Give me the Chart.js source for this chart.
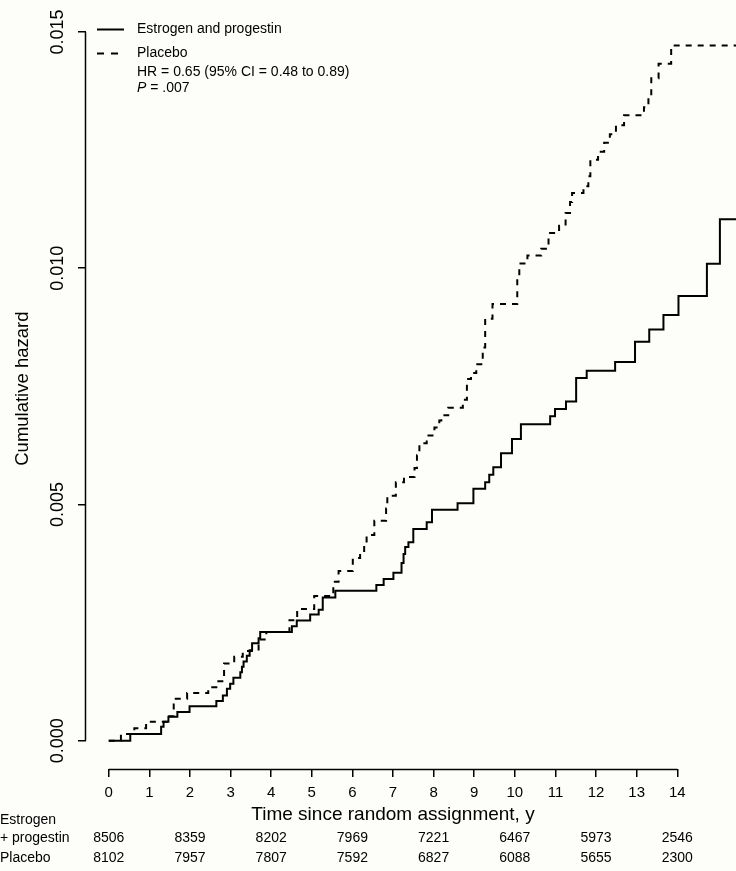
<!DOCTYPE html>
<html>
<head>
<meta charset="utf-8">
<title>Cumulative hazard</title>
<script src="https://cdn.jsdelivr.net/npm/chart.js@4.4.1/dist/chart.umd.min.js"></script>
<style>
  html, body { margin: 0; padding: 0; background: #fdfdf9; }
  canvas { display: block; }
</style>
</head>
<body>
<canvas id="hazardChart" width="736" height="871"></canvas>
<script>
// step start times (years) and cumulative hazard level from that time on
const epTimes = [0, 0.53, 1.29, 1.35, 1.47, 1.69, 1.99, 2.65, 2.81, 2.91, 2.99, 3.07, 3.24, 3.28, 3.32, 3.40,
    3.47, 3.53, 3.69, 3.73, 4.51, 4.63, 4.96, 5.17, 5.27, 5.58, 6.59, 6.77, 7.01, 7.21, 7.26, 7.30, 7.38,
    7.50, 7.83, 7.96, 8.59, 8.98, 9.27, 9.37, 9.47, 9.66, 9.93, 10.15, 10.87, 10.99, 11.26, 11.51, 11.77,
    12.47, 12.96, 13.31, 13.66, 14.03, 14.73, 15.05, 15.45];
const epHazard = [0, 0.000142, 0.000295, 0.000400, 0.000504, 0.000609, 0.000728, 0.000839, 0.000958,
    0.001098, 0.001203, 0.001329, 0.001446, 0.001565, 0.001676, 0.001795, 0.001914, 0.002061, 0.002165,
    0.002297, 0.002423, 0.002542, 0.002668, 0.002772, 0.003030, 0.003170, 0.003295, 0.003421, 0.003553,
    0.003762, 0.003950, 0.004097, 0.004201, 0.004480, 0.004620, 0.004885, 0.005024, 0.005331, 0.005471,
    0.005630, 0.005785, 0.006084, 0.006383, 0.006697, 0.006865, 0.007020, 0.007179, 0.007674, 0.007827,
    0.008015, 0.008442, 0.008700, 0.009007, 0.009411, 0.010095, 0.011037, 0.011037];

const placeboTimes = [0, 0.30, 0.63, 0.92, 1.43, 1.60, 1.93, 2.45, 2.65, 2.84, 3.09, 3.30, 3.69, 3.88,
    4.45, 4.64, 5.06, 5.53, 5.66, 6.01, 6.19, 6.29, 6.35, 6.54, 6.83, 6.86, 7.07, 7.27, 7.53, 7.59, 7.65,
    7.83, 8.02, 8.14, 8.19, 8.36, 8.72, 8.82, 8.92, 9.05, 9.21, 9.27, 9.45, 10.06, 10.11, 10.31, 10.65,
    10.83, 11.09, 11.25, 11.36, 11.41, 11.69, 11.81, 11.86, 12.05, 12.20, 12.34, 12.49, 12.69, 13.18,
    13.29, 13.36, 13.54, 13.85, 15.45];
const placeboHazard = [0, 0.000142, 0.000262, 0.000400, 0.000519, 0.000889, 0.001006, 0.001132, 0.001257,
    0.001634, 0.001774, 0.001900, 0.002140, 0.002297, 0.002548, 0.002789, 0.003061, 0.003364, 0.003588,
    0.003866, 0.004013, 0.004180, 0.004354, 0.004655, 0.004913, 0.005185, 0.005471, 0.005582, 0.005770,
    0.006042, 0.006294, 0.006461, 0.006628, 0.006775, 0.006886, 0.007047, 0.007214, 0.007653, 0.007779,
    0.007967, 0.008323, 0.008930, 0.009244, 0.009809, 0.010101, 0.010269, 0.010409, 0.010744, 0.010897,
    0.011168, 0.011399, 0.011593, 0.011733, 0.011943, 0.012292, 0.012466, 0.012654, 0.012836, 0.013024,
    0.013234, 0.013407, 0.013617, 0.014020, 0.014328, 0.014711, 0.014711];

const xTicks = [0, 1, 2, 3, 4, 5, 6, 7, 8, 9, 10, 11, 12, 13, 14];
const yTicks = [0, 0.005, 0.010, 0.015];

// numbers at risk
const riskTimes = [0, 2, 4, 6, 8, 10, 12, 14];
const riskEP = [8506, 8359, 8202, 7969, 7221, 6467, 5973, 2546];
const riskPlacebo = [8102, 7957, 7807, 7592, 6827, 6088, 5655, 2300];

const seriesNames = ['Estrogen and progestin', 'Placebo'];
const hrText = 'HR = 0.65 (95% CI = 0.48 to 0.89)';
const pText = ' = .007';

const FONT = '"Liberation Sans", Arial, Helvetica, sans-serif';

document.addEventListener('DOMContentLoaded', () => {
    const toPoints = (ts, hs) => ts.map((t, i) => ({ x: t, y: hs[i] }));

    // R-style detached axes, legend block and the at-risk table
    const extras = {
        id: 'extras',
        afterDraw(chart) {
            const { ctx, chartArea, scales: { x, y } } = chart;
            ctx.save();
            ctx.strokeStyle = '#000';
            ctx.fillStyle = '#000';
            ctx.lineWidth = 1.5;

            // axis lines only across the tick range
            const ay = Math.round(chartArea.bottom) + 0.5;
            ctx.beginPath();
            ctx.moveTo(x.getPixelForValue(xTicks[0]), ay);
            ctx.lineTo(x.getPixelForValue(xTicks[xTicks.length - 1]), ay);
            ctx.stroke();
            const axx = Math.round(chartArea.left) - 0.5;
            ctx.beginPath();
            ctx.moveTo(axx, y.getPixelForValue(yTicks[0]));
            ctx.lineTo(axx, y.getPixelForValue(yTicks[yTicks.length - 1]));
            ctx.stroke();

            // legend
            ctx.lineWidth = 2;
            ctx.beginPath();
            ctx.moveTo(97, 29.5); ctx.lineTo(124, 29.5);
            ctx.stroke();
            ctx.setLineDash([7, 7]);
            ctx.beginPath();
            ctx.moveTo(97, 53.5); ctx.lineTo(124, 53.5);
            ctx.stroke();
            ctx.setLineDash([]);

            ctx.font = '14px ' + FONT;
            ctx.textAlign = 'left';
            ctx.textBaseline = 'middle';
            ctx.fillText(seriesNames[0], 137, 29);
            ctx.fillText(seriesNames[1], 137, 53);
            ctx.fillText(hrText, 137, 72);
            ctx.font = 'italic 14px ' + FONT;
            ctx.fillText('P', 137, 88);
            const pw = ctx.measureText('P').width;
            ctx.font = '14px ' + FONT;
            ctx.fillText(pText, 137 + pw, 88);

            // numbers at risk
            ctx.fillText('Estrogen', 0, 820);
            ctx.fillText('+ progestin', 0, 838);
            ctx.fillText('Placebo', 0, 858);
            ctx.textAlign = 'center';
            riskTimes.forEach((t, i) => {
                const px = x.getPixelForValue(t);
                ctx.fillText(String(riskEP[i]), px, 838);
                ctx.fillText(String(riskPlacebo[i]), px, 858);
            });
            ctx.restore();
        }
    };

    new Chart(document.getElementById('hazardChart'), {
        type: 'line',
        data: {
            datasets: [
                {
                    label: seriesNames[0],
                    data: toPoints(epTimes, epHazard),
                    borderColor: '#000',
                    borderWidth: 2,
                    stepped: true,
                    pointRadius: 0,
                    fill: false,
                    clip: false
                },
                {
                    label: seriesNames[1],
                    data: toPoints(placeboTimes, placeboHazard),
                    borderColor: '#000',
                    borderWidth: 2,
                    borderDash: [6, 6],
                    stepped: true,
                    pointRadius: 0,
                    fill: false,
                    clip: false
                }
            ]
        },
        options: {
            responsive: false,
            animation: false,
            layout: { padding: { top: 0, right: 36, bottom: 0, left: 0 } },
            scales: {
                x: {
                    type: 'linear',
                    bounds: 'data',
                    // range set here (not as min/max) so the curves past 14 y are still drawn
                    afterDataLimits: s => { s.min = -0.56; s.max = 14.56; },
                    afterBuildTicks: s => { s.ticks = xTicks.map(v => ({ value: v })); },
                    afterFit: s => { s.height = 102; },
                    border: { display: false },
                    grid: { drawOnChartArea: false, drawTicks: true, tickLength: 8, color: '#000', lineWidth: 1.5 },
                    ticks: {
                        autoSkip: false, maxRotation: 0, padding: 7, color: '#000',
                        font: { family: FONT, size: 15 },
                        callback: v => String(v)
                    },
                    title: {
                        display: true, text: 'Time since random assignment, y', color: '#000',
                        font: { family: FONT, size: 19 }, padding: { top: 0, bottom: 44.6 }
                    }
                },
                y: {
                    type: 'linear',
                    min: -0.0006,
                    max: 0.0155,
                    afterBuildTicks: s => { s.ticks = yTicks.map(v => ({ value: v })); },
                    afterFit: s => { s.width = 86; },
                    border: { display: false },
                    grid: { drawOnChartArea: false, drawTicks: true, tickLength: 8, color: '#000', lineWidth: 1.5 },
                    ticks: {
                        minRotation: 90, maxRotation: 90, crossAlign: 'center', padding: -2.5, color: '#000',
                        font: { family: FONT, size: 18 },
                        callback: v => v.toFixed(3)
                    },
                    title: {
                        display: true, text: 'Cumulative hazard', color: '#000',
                        font: { family: FONT, size: 18.5 }, padding: { top: 11.4, bottom: 0 }
                    }
                }
            },
            plugins: {
                legend: { display: false },
                tooltip: { enabled: false }
            }
        },
        plugins: [extras]
    });
});
</script>
</body>
</html>
